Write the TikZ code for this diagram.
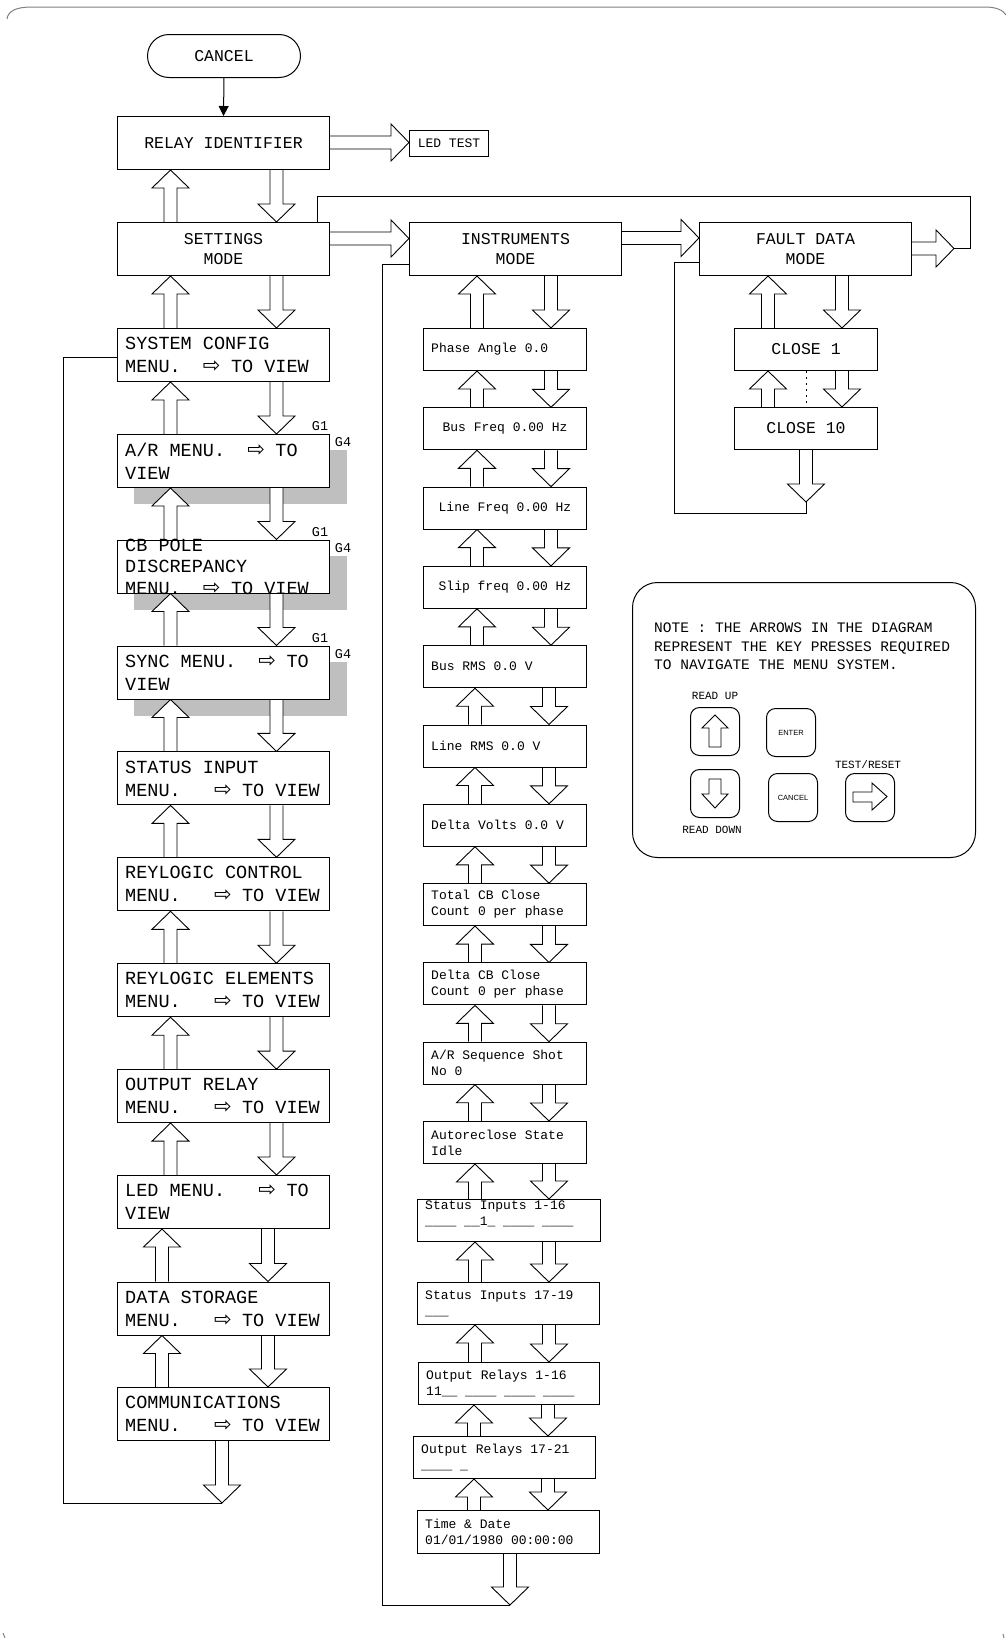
\documentclass[tikz,border=0pt]{standalone}
\usepackage{fontspec}
\setmainfont{Liberation Mono}
\newfontfamily\dvfont{DejaVu Sans}
\newfontfamily\keyfont{Liberation Sans}
\usetikzlibrary{arrows.meta,calc}
\pgfdeclarelayer{shadowlayer}
\pgfdeclarelayer{arrowlayer}
\pgfsetlayers{shadowlayer,arrowlayer,main}
\frenchspacing
\newcommand\rarr{\makebox[17pt][l]{\dvfont\fontsize{21}{21}\selectfont ⇨}}
\def\hsw{6.5pt}
\def\hhw{18.5pt}
\def\hhl{18pt}
\tikzset{
  box/.style={draw, line width=1pt, fill=white, inner sep=0pt, anchor=north west, rectangle},
  mbox/.style={box, minimum width=212, minimum height=53},
  cbox/.style={mbox, font=\fontsize{16.5}{20}\selectfont, align=center},
  ibox/.style={box, minimum height=42},
  mtext/.style={font=\fontsize{18.5}{23}\selectfont, align=left, anchor=west, inner sep=0pt},
  itext/.style={font=\fontsize{13}{16}\selectfont, align=left, anchor=west, inner sep=0pt},
  icfont/.style={font=\fontsize{13}{16}\selectfont},
  gtext/.style={font=\fontsize{13.5}{15}\selectfont, inner sep=0pt},
  harrow/.style={draw=black, fill=white, line width=0.9pt, line join=miter},
  ln/.style={draw=black, line width=1pt},
  shade/.style={fill=black!25},
  keyb/.style={draw, line width=1pt, rounded corners=9, minimum width=49, minimum height=48, anchor=north west, inner sep=0pt},
  klabel/.style={font=\fontsize{11}{13}\selectfont, inner sep=0pt},
  framec/.style={draw=black!50, line width=1pt},
}
\newcommand\varr[3]{%
  \begin{pgfonlayer}{arrowlayer}
  \draw[harrow] let \p1=(#2), \p2=(#3), \n1={ifthenelse(\y2>\y1,1,-1)} in
    ({#1pt-\hsw},{\y1}) -- ({#1pt-\hsw},{\y2-(\n1)*\hhl}) -- ({#1pt-\hhw},{\y2-(\n1)*\hhl}) -- ({#1pt},{\y2})
    -- ({#1pt+\hhw},{\y2-(\n1)*\hhl}) -- ({#1pt+\hsw},{\y2-(\n1)*\hhl}) -- ({#1pt+\hsw},{\y1});
  \end{pgfonlayer}}
\newcommand\harr[3]{%
  \begin{pgfonlayer}{arrowlayer}
  \draw[harrow] let \p1=(#2), \p2=(#3), \n1={ifthenelse(\x2>\x1,1,-1)} in
    ({\x1},{-#1pt+\hsw}) -- ({\x2-(\n1)*\hhl},{-#1pt+\hsw}) -- ({\x2-(\n1)*\hhl},{-#1pt+\hhw}) -- ({\x2},{-#1pt})
    -- ({\x2-(\n1)*\hhl},{-#1pt-\hhw}) -- ({\x2-(\n1)*\hhl},{-#1pt-\hsw}) -- ({\x1},{-#1pt-\hsw});
  \end{pgfonlayer}}
\begin{document}
\begin{tikzpicture}[x=1pt,y=-1pt]
\useasboundingbox (0,0) rectangle (1006,1638);
% frame
\draw[framec] (7,19) .. controls (8,11) and (16,7) .. (32,7) -- (985,7) .. controls (996,7) and (1003,10) .. (1006,15);
\draw[framec] (3,1633) -- (5,1638);
\draw[framec] (1003,1634) -- (1004,1638);

% top
\node[box, rounded corners=21.5, minimum width=153, minimum height=43, font=\fontsize{16.5}{20}\selectfont] (cancel) at (147,34) {CANCEL};
\node[cbox] (relay) at (117,116) {RELAY IDENTIFIER};
\node[box, minimum width=79, minimum height=26, font=\fontsize{13}{16}\selectfont] (led) at (409,130) {LED TEST};
\node[cbox] (set) at (117,222) {SETTINGS\\MODE};
\node[cbox] (ins) at (409,222) {INSTRUMENTS\\MODE};
\node[cbox] (fault) at (699,222) {FAULT DATA\\MODE};

% left menu column
\node[mbox] (sys) at (117,328) {};
\node[mbox] (ar) at (117,434) {};
\node[mbox] (cb) at (117,539.5) {};
\node[mbox] (sync) at (117,645.5) {};
\node[mbox] (stat) at (117,751.4) {};
\node[mbox] (rc) at (117,857.3) {};
\node[mbox] (re) at (117,963.2) {};
\node[mbox] (out) at (117,1069.1) {};
\node[mbox] (ledm) at (117,1175) {};
\node[mbox] (data) at (117,1281.5) {};
\node[mbox] (comm) at (117,1387) {};

\node[mtext] (sys-t) at ([xshift=8]sys.west) {SYSTEM CONFIG\\MENU.\ \ \rarr{} TO VIEW};
\node[mtext] (ar-t) at ([xshift=8]ar.west) {A/R MENU.\ \ \rarr{} TO\\VIEW};
\node[mtext, font=\fontsize{18.5}{21.5}\selectfont] (cb-t) at ([xshift=8]cb.west) {CB POLE\\DISCREPANCY\\MENU.\ \ \rarr{} TO VIEW};
\node[mtext] (sync-t) at ([xshift=8]sync.west) {SYNC MENU.\ \ \rarr{} TO\\VIEW};
\node[mtext] (stat-t) at ([xshift=8]stat.west) {STATUS INPUT\\MENU.\ \ \ \rarr{} TO VIEW};
\node[mtext] (rc-t) at ([xshift=8]rc.west) {REYLOGIC CONTROL\\MENU.\ \ \ \rarr{} TO VIEW};
\node[mtext] (re-t) at ([xshift=8]re.west) {REYLOGIC ELEMENTS\\MENU.\ \ \ \rarr{} TO VIEW};
\node[mtext] (out-t) at ([xshift=8]out.west) {OUTPUT RELAY\\MENU.\ \ \ \rarr{} TO VIEW};
\node[mtext] (ledm-t) at ([xshift=8]ledm.west) {LED MENU.\ \ \ \rarr{} TO\\VIEW};
\node[mtext] (data-t) at ([xshift=8]data.west) {DATA STORAGE\\MENU.\ \ \ \rarr{} TO VIEW};
\node[mtext] (comm-t) at ([xshift=8]comm.west) {COMMUNICATIONS\\MENU.\ \ \ \rarr{} TO VIEW};

% shadows and G labels
\begin{pgfonlayer}{shadowlayer}
\foreach \s in {ar,cb,sync}{
  \fill[shade] ([shift={(17,16)}]\s.north west) rectangle ([shift={(17,16)}]\s.south east);
}
\end{pgfonlayer}
\foreach \s in {ar,cb,sync}{
  \node[gtext] (\s-g1) at ([xshift=-10,yshift=7.5]\s.north east) {G1};
  \node[gtext] (\s-g4) at ([xshift=13,yshift=-8.5]\s.north east) {G4};
}

% instruments column
\node[ibox, minimum width=163] (ph) at (423,328) {};
\node[ibox, minimum width=163, icfont] (bf) at (423,407.3) {Bus Freq 0.00 Hz};
\node[ibox, minimum width=163, icfont] (lf) at (423,486.6) {Line Freq 0.00 Hz};
\node[ibox, minimum width=163, icfont] (sf) at (423,565.9) {Slip freq 0.00 Hz};
\node[ibox, minimum width=163] (brms) at (423,645.2) {};
\node[ibox, minimum width=163] (lrms) at (423,724.5) {};
\node[ibox, minimum width=163] (dv) at (423,803.8) {};
\node[ibox, minimum width=163] (tcb) at (423,883.1) {};
\node[ibox, minimum width=163] (dcb) at (423,962.4) {};
\node[ibox, minimum width=163] (ars) at (423,1041.7) {};
\node[ibox, minimum width=163] (arc) at (423,1121) {};
\node[ibox, minimum width=183] (si1) at (417,1199) {};
\node[ibox, minimum width=182] (si2) at (417,1282) {};
\node[ibox, minimum width=181] (or1) at (418,1362) {};
\node[ibox, minimum width=182] (or2) at (413,1436) {};
\node[ibox, minimum width=182, minimum height=43] (td) at (417,1510) {};

\node[itext] (ph-t) at ([xshift=8]ph.west) {Phase Angle 0.0};
\node[itext] (brms-t) at ([xshift=8]brms.west) {Bus RMS 0.0 V};
\node[itext] (lrms-t) at ([xshift=8]lrms.west) {Line RMS 0.0 V};
\node[itext] (dv-t) at ([xshift=8]dv.west) {Delta Volts 0.0 V};
\node[itext] (tcb-t) at ([xshift=8]tcb.west) {Total CB Close\\Count 0 per phase};
\node[itext] (dcb-t) at ([xshift=8]dcb.west) {Delta CB Close\\Count 0 per phase};
\node[itext] (ars-t) at ([xshift=8]ars.west) {A/R Sequence Shot\\No 0};
\node[itext] (arc-t) at ([xshift=8]arc.west) {Autoreclose State\\Idle};
\node[itext] (si1-t) at ([xshift=8,yshift=6.5]si1.west) {Status Inputs 1-16\\\_\_\_\_ \_\_1\_ \_\_\_\_ \_\_\_\_};
\node[itext] (si2-t) at ([xshift=8]si2.west) {Status Inputs 17-19\\\_\_\_};
\node[itext] (or1-t) at ([xshift=8]or1.west) {Output Relays 1-16\\11\_\_ \_\_\_\_ \_\_\_\_ \_\_\_\_};
\node[itext] (or2-t) at ([xshift=8]or2.west) {Output Relays 17-21\\\_\_\_\_ \_};
\node[itext] (td-t) at ([xshift=8]td.west) {Time \& Date\\01/01/1980 00:00:00};

% fault data column
\node[box, minimum width=143, minimum height=42, font=\fontsize{16.5}{20}\selectfont] (c1) at (734,328) {CLOSE 1};
\node[box, minimum width=143, minimum height=42, font=\fontsize{16.5}{20}\selectfont] (c10) at (734,407) {CLOSE 10};

% note box
\node[draw, line width=1pt, rounded corners=25, minimum width=343, minimum height=275, anchor=north west, inner sep=0pt] (note) at (632,582) {};
\node[font=\fontsize{14.5}{18.7}\selectfont, align=left, anchor=west, inner sep=0pt] (note-t) at (654,646.5) {NOTE : THE ARROWS IN THE DIAGRAM\\REPRESENT THE KEY PRESSES REQUIRED\\TO NAVIGATE THE MENU SYSTEM.};
\node[keyb] (kup) at (690,707) {};
\node[keyb, font=\keyfont\fontsize{7.5}{9}\selectfont] (kent) at (766,708) {ENTER};
\node[keyb] (kdown) at (690,769) {};
\node[keyb, font=\keyfont\fontsize{7.5}{9}\selectfont] (kcan) at (768,773) {CANCEL};
\node[keyb] (kright) at (845,773) {};
\node[klabel] (lup) at (715,696) {READ UP};
\node[klabel] (ldown) at (712,830) {READ DOWN};
\node[klabel] (ltest) at (868,765) {TEST/RESET};
\draw[ln, line width=0.9pt, line join=miter] (709,747) -- (709,728) -- (702,728) -- (715,715) -- (728,728) -- (721,728) -- (721,747) -- cycle;
\draw[ln, line width=0.9pt, line join=miter] (709,779) -- (709,794) -- (702,794) -- (715,808) -- (728,794) -- (721,794) -- (721,779) -- cycle;
\draw[ln, line width=0.9pt, line join=miter] (853,792) -- (872,792) -- (872,783) -- (887,796.5) -- (872,810) -- (872,802) -- (853,802) -- cycle;

% connectors
\draw[ln, -{Triangle[length=10,width=10]}] (cancel.south) -- (relay.north);
\harr{142.5}{relay.east}{led.west}
\harr{238.5}{set.east}{ins.west}
\harr{238}{ins.east}{fault.west}
\coordinate (fdtip) at (954,248.5);
\harr{248.5}{fault.east}{fdtip}
\draw[ln] (fdtip) -- ++(16,0) -- ++(0,-52.5) -| ([xshift=-13]set.north east);

\foreach \a/\b in {relay/set,set/sys,sys/ar,ar/cb,cb/sync,sync/stat,stat/rc,rc/re,re/out,out/ledm}{
  \varr{170.5}{\b.north}{\a.south}
  \varr{276.5}{\a.south}{\b.north}
}
\foreach \a/\b in {ledm/data,data/comm}{
  \varr{162}{\b.north}{\a.south}
  \varr{268}{\a.south}{\b.north}
}
\coordinate (commtip) at (222,1503);
\varr{222}{comm.south}{commtip}
\draw[ln] (commtip) -- (63,1503) |- ([yshift=-2.5]sys.west);

\foreach \a/\b in {ins/ph,ph/bf,bf/lf,lf/sf,sf/brms}{
  \varr{477}{\b.north}{\a.south}
  \varr{551}{\a.south}{\b.north}
}
\foreach \a/\b in {brms/lrms,lrms/dv,dv/tcb,tcb/dcb,dcb/ars,ars/arc,arc/si1,si1/si2,si2/or1}{
  \varr{475}{\b.north}{\a.south}
  \varr{549}{\a.south}{\b.north}
}
\foreach \a/\b in {or1/or2,or2/td}{
  \varr{474}{\b.north}{\a.south}
  \varr{548}{\a.south}{\b.north}
}
\coordinate (tdtip) at (510,1605);
\varr{510}{td.south}{tdtip}
\draw[ln] (tdtip) -- (382,1605) |- ([yshift=-15.5]ins.west);

\foreach \a/\b in {fault/c1,c1/c10}{
  \varr{768}{\b.north}{\a.south}
  \varr{842}{\a.south}{\b.north}
}
\draw[ln, dash pattern=on 2pt off 4pt] (c1.south) -- (c10.north);
\coordinate (c10tip) at (806,502);
\varr{806}{c10.south}{c10tip}
\draw[ln] (c10tip) -- (806,513) -- (674,513) |- ([yshift=-13.5]fault.west);
\end{tikzpicture}
\end{document}
